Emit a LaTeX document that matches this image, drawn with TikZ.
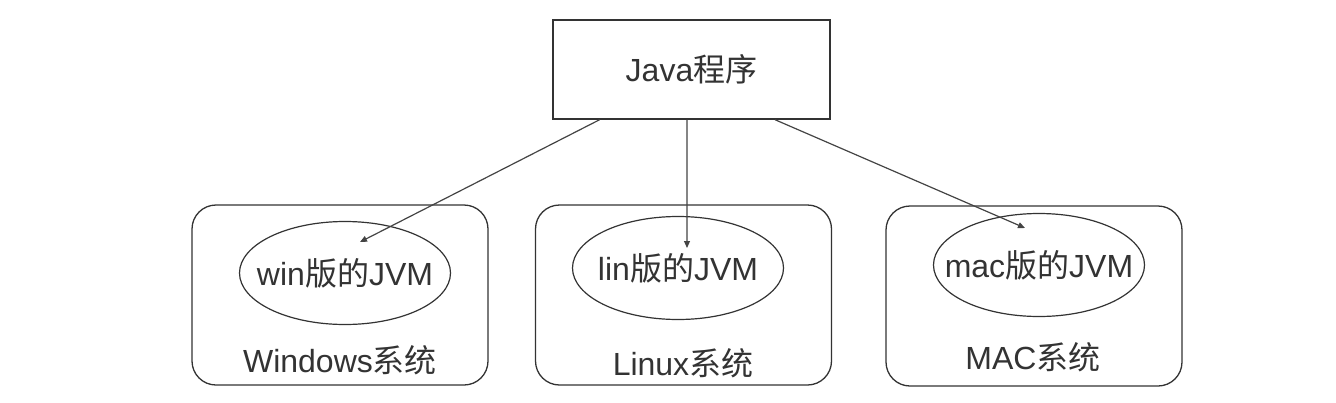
\documentclass[tikz,border=0pt]{standalone}
\usepackage{fontspec}
\setmainfont{Liberation Sans}
\newfontfamily\cjk{Noto Sans CJK SC}
\usetikzlibrary{shapes.geometric,arrows.meta,calc}
\definecolor{ink}{HTML}{333333}
\definecolor{wire}{HTML}{444444}
\begin{document}
\begin{tikzpicture}[x=1pt,y=-1pt,
  txt/.style={text=ink,font=\fontsize{32}{35}\selectfont,inner sep=0pt},
  sysbox/.style={draw=ink,line width=1.3pt,rounded corners=24pt,minimum width=296pt,minimum height=180pt,inner sep=0pt},
  jvm/.style={draw=ink,line width=1.2pt,ellipse,minimum width=211pt,minimum height=103pt,inner sep=0pt},
  progbox/.style={draw=ink,line width=1.4pt,minimum width=277pt,minimum height=99pt,inner sep=0pt,text=ink,font=\fontsize{32}{35}\selectfont},
  conn/.style={draw=wire,line width=1.2pt,-{Triangle[length=7pt,width=6pt]}}]
\useasboundingbox[fill=white] (0,0) rectangle (1336,402);
\node[progbox] (java) at (691.5,69.5) {Java{\cjk 程序}};
\node[sysbox] (win) at (340,295) {};
\node[sysbox] (lin) at (683.5,295) {};
\node[sysbox] (mac) at (1034,296) {};
\node[jvm] (winjvm) at (345,273) {};
\node[jvm] (linjvm) at (678,268) {};
\node[jvm] (macjvm) at (1039,265) {};
\node[txt] (winjvmtxt) at (winjvm.center) {win{\cjk 版的}JVM};
\node[txt] (linjvmtxt) at (linjvm.center) {lin{\cjk 版的}JVM};
\node[txt] (macjvmtxt) at (macjvm.center) {mac{\cjk 版的}JVM};
\node[txt] (winlbl) at (340,360) {Windows{\cjk 系统}};
\node[txt] (linlbl) at (683,363) {Linux{\cjk 系统}};
\node[txt] (maclbl) at (1033,357) {MAC{\cjk 系统}};
\coordinate (s1) at ($(java.south west)!0.17!(java.south east)$);
\coordinate (s2) at ($(java.south west)!0.484!(java.south east)$);
\coordinate (s3) at ($(java.south west)!0.80!(java.south east)$);
\coordinate (t1) at (360,242);
\coordinate (t2) at (687,248);
\coordinate (t3) at (1025,228);
\draw[conn] (s1) -- (t1);
\draw[conn] (s2) -- (t2);
\draw[conn] (s3) -- (t3);
\end{tikzpicture}
\end{document}
